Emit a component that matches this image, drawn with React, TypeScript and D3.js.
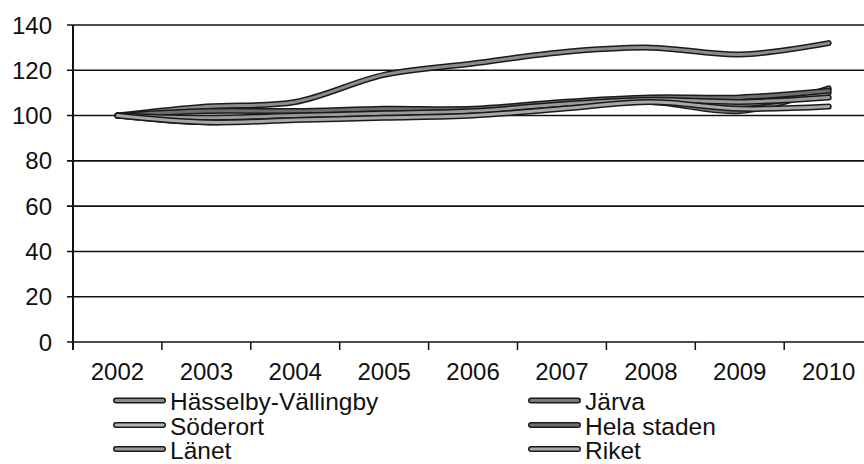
import React from "react";
import * as d3 from "d3";

const years = ["2002", "2003", "2004", "2005", "2006", "2007", "2008", "2009", "2010"];
const yTicks = [0, 20, 40, 60, 80, 100, 120, 140];

const hasselbyVallingby = [100, 104, 106, 118, 123, 128, 130, 127, 132];
const jarva = [100, 97, 99, 100, 101, 104, 106, 102, 112];
const soderort = [100, 98, 99, 101, 102, 105, 107, 105, 110];
const helaStaden = [100, 102, 102, 103, 103, 106, 108, 108, 111];
const lanet = [100, 99, 100, 101, 102, 105, 107, 106, 108];
const riket = [100, 97, 98, 99, 100, 103, 106, 103, 104];

const seriesNames = ["Hässelby-Vällingby", "Järva", "Söderort", "Hela staden", "Länet", "Riket"];
const seriesValues = [hasselbyVallingby, jarva, soderort, helaStaden, lanet, riket];
const seriesFill = ["#8c8c8c", "#7a7a7a", "#b4b4b4", "#6e6e6e", "#9a9a9a", "#a8a8a8"];

const W = 864;
const H = 464;
const left = 73;
const step = 88.9;
const top = 25;
const bottom = 342;

export default function App() {
  const x = d3.scaleBand<string>().domain(years).range([left, left + step * years.length]).paddingInner(0).paddingOuter(0);
  const y = d3.scaleLinear().domain([0, 140]).range([bottom, top]);
  const cx = (yr: string) => (x(yr) as number) + x.bandwidth() / 2;
  const line = d3
    .line<number>()
    .x((_, i) => cx(years[i]))
    .y((v) => y(v))
    .curve(d3.curveCatmullRom.alpha(0.5));

  const font = "'Liberation Sans', Arial, sans-serif";
  const legendCols = [113, 528];
  const legendRows = [410, 434.5, 458.5];

  return (
    <svg width={W} height={H} style={{ position: "absolute", left: 0, top: 0, background: "#fff" }}>
      {yTicks.map((t) => (
        <line key={"g" + t} x1={left - 6} x2={W} y1={y(t)} y2={y(t)} stroke="#111" strokeWidth={1.6} />
      ))}
      <line x1={left} x2={left} y1={top} y2={bottom + 8} stroke="#111" strokeWidth={2} />
      {years.slice(1).map((yr) => (
        <line key={"t" + yr} x1={x(yr) as number} x2={x(yr) as number} y1={bottom} y2={bottom + 8} stroke="#111" strokeWidth={1.5} />
      ))}
      {yTicks.map((t) => (
        <text key={"yl" + t} x={52} y={y(t)} dy="0.36em" textAnchor="end" fontFamily={font} fontSize={24} fill="#111">
          {t}
        </text>
      ))}
      {years.map((yr) => (
        <text key={"xl" + yr} x={cx(yr)} y={380} textAnchor="middle" fontFamily={font} fontSize={24} fill="#111">
          {yr}
        </text>
      ))}
      {seriesValues.map((vals, i) => (
        <g key={"s" + i}>
          <path d={line(vals) || ""} fill="none" stroke="#1a1a1a" strokeWidth={6} strokeLinecap="round" />
          <path d={line(vals) || ""} fill="none" stroke={seriesFill[i]} strokeWidth={3} strokeLinecap="round" />
        </g>
      ))}
      {seriesNames.map((name, i) => {
        const col = i % 2;
        const row = Math.floor(i / 2);
        const x0 = legendCols[col];
        const by = legendRows[row];
        const ly = by - 9.5;
        return (
          <g key={"l" + i}>
            <line x1={x0 + 3} x2={x0 + 50} y1={ly} y2={ly} stroke="#1a1a1a" strokeWidth={6} strokeLinecap="round" />
            <line x1={x0 + 3} x2={x0 + 50} y1={ly} y2={ly} stroke={seriesFill[i]} strokeWidth={3} strokeLinecap="round" />
            <text x={x0 + 57} y={by} fontFamily={font} fontSize={24.5} fill="#111">
              {name}
            </text>
          </g>
        );
      })}
    </svg>
  );
}
